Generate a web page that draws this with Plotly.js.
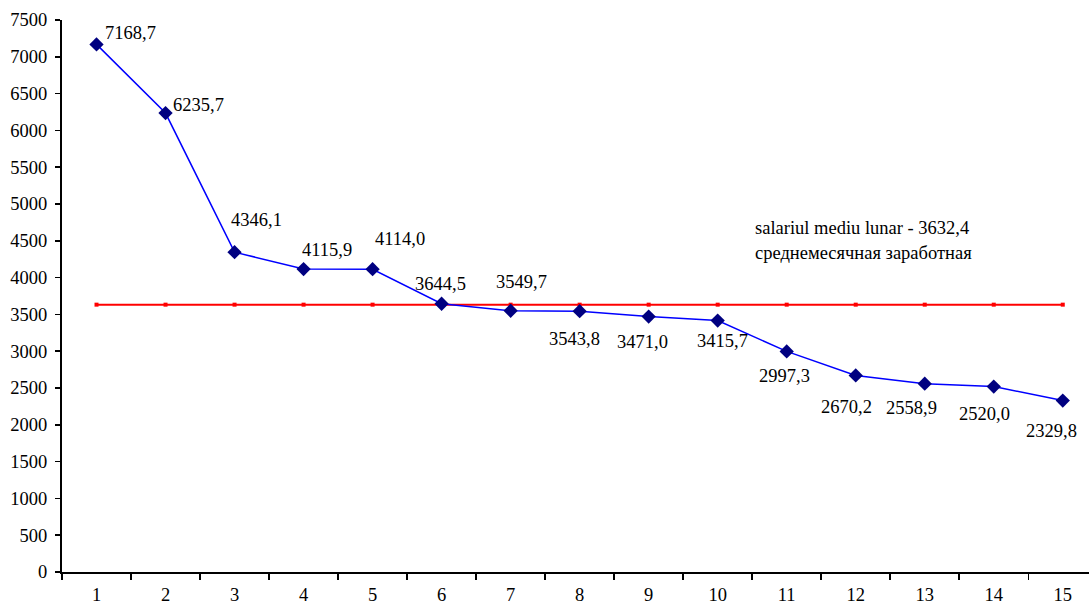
<!DOCTYPE html>
<html>
<head>
<meta charset="utf-8">
<script src="https://cdn.plot.ly/plotly-3.0.1.min.js"></script>
<style>html,body{margin:0;padding:0;background:#fff;}#chart{width:1089px;height:606px;}</style>
</head>
<body>
<div id="chart"></div>
<script>
const categories = ["1","2","3","4","5","6","7","8","9","10","11","12","13","14","15"];
const salaries = [7168.7, 6235.7, 4346.1, 4115.9, 4114.0, 3644.5, 3549.7, 3543.8, 3471.0, 3415.7, 2997.3, 2670.2, 2558.9, 2520.0, 2329.8];
const labels = ["7168,7","6235,7","4346,1","4115,9","4114,0","3644,5","3549,7","3543,8","3471,0","3415,7","2997,3","2670,2","2558,9","2520,0","2329,8"];
const averageValue = 3632.4;
const averageLines = ["salariul mediu lunar - 3632,4", "среднемесячная заработная"];
const yTicks = [0,500,1000,1500,2000,2500,3000,3500,4000,4500,5000,5500,6000,6500,7000,7500];

// label centre offsets in px from each point (style only)
const shifts = [[34,11],[33,8],[22,32],[23,19],[27,30],[-1,20],[11,29],[-5,-28],[-6,-25],[5,-20],[-2,-25],[-9,-32],[-13,-24],[-9,-27],[-11,-30]];

const FAMILY = "Liberation Serif";
const font = {family: FAMILY, size: 18.5, color: "#000"};

const traces = [
  {
    x: categories, y: categories.map(() => averageValue),
    type: "scatter", mode: "lines+markers",
    line: {color: "#ff0000", width: 2},
    marker: {symbol: "square", size: 4, color: "#ff0000"},
    hoverinfo: "skip", showlegend: false
  },
  {
    x: categories, y: salaries,
    type: "scatter", mode: "lines+markers",
    line: {color: "#0000ff", width: 1.5},
    marker: {symbol: "diamond", size: 11, color: "#000080"},
    showlegend: false
  }
];

const annotations = salaries.map((v, i) => ({
  x: i, y: v, xref: "x", yref: "y",
  text: labels[i], showarrow: false,
  xanchor: "center", yanchor: "middle",
  xshift: shifts[i][0], yshift: shifts[i][1],
  font: font
}));
annotations.push({
  xref: "paper", yref: "y", x: 0.673, y: 4674, text: averageLines[0],
  showarrow: false, xanchor: "left", yanchor: "middle",
  font: font
});
annotations.push({
  xref: "paper", yref: "y", x: 0.673, y: 4334, text: averageLines[1],
  showarrow: false, xanchor: "left", yanchor: "middle",
  font: font
});

const layout = {
  width: 1089, height: 606,
  margin: {l: 62, r: 0, t: 20, b: 34},
  paper_bgcolor: "#fff", plot_bgcolor: "#fff",
  font: font,
  showlegend: false,
  xaxis: {
    type: "category",
    range: [-0.5, 14.38],
    tickson: "boundaries",
    ticks: "outside", ticklen: 6, tickwidth: 1.5, tickcolor: "#000",
    ticklabelstandoff: 5,
    showline: true, linecolor: "#000", linewidth: 2,
    showgrid: false, zeroline: false,
    tickfont: font
  },
  yaxis: {
    range: [0, 7500],
    tickvals: yTicks, ticktext: yTicks.map(String),
    ticks: "outside", ticklen: 5, tickwidth: 1.5, tickcolor: "#000",
    ticklabelstandoff: 4,
    showline: true, linecolor: "#000", linewidth: 2,
    showgrid: false, zeroline: false,
    tickfont: font
  },
  annotations: annotations
};

Plotly.newPlot("chart", traces, layout, {displayModeBar: false, staticPlot: true});
</script>
</body>
</html>
